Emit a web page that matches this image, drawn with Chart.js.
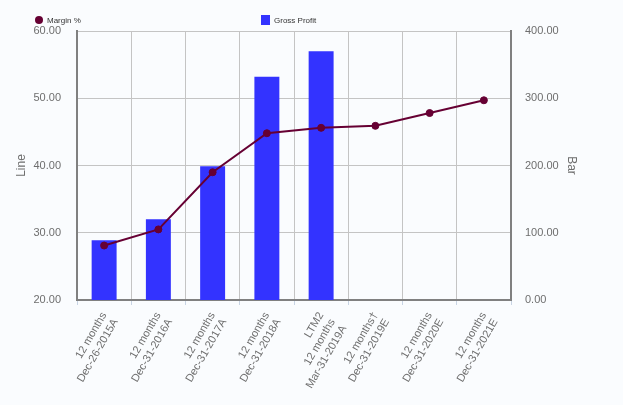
<!DOCTYPE html>
<html>
<head>
<meta charset="utf-8">
<script src="https://cdn.jsdelivr.net/npm/chart.js@4"></script>
<style>
  body { margin: 0; background: #fafcfe; font-family: "Liberation Sans", Arial, sans-serif; }
  #wrap { position: relative; width: 623px; height: 405px; }
  .lg { position: absolute; font-size: 8px; color: #333; line-height: 10px; white-space: nowrap; }
  .dot { display: inline-block; width: 8px; height: 8px; border-radius: 50%; background: #660033; vertical-align: -1px; margin-right: 4px; }
  .sq { display: inline-block; width: 9px; height: 10px; background: #3333ff; vertical-align: -2px; margin-right: 4px; }
</style>
</head>
<body>
<div id="wrap">
  <canvas id="myChart"></canvas>
  <div class="lg" id="lgLine" style="left:35px; top:16px;"><span class="dot"></span><span id="lgLineText"></span></div>
  <div class="lg" id="lgBar" style="left:261px; top:15px;"><span class="sq"></span><span id="lgBarText"></span></div>
</div>
<script>
var categories = [
  ['12 months', 'Dec-26-2015A'],
  ['12 months', 'Dec-31-2016A'],
  ['12 months', 'Dec-31-2017A'],
  ['12 months', 'Dec-31-2018A'],
  ['LTM2', '12 months', 'Mar-31-2019A'],
  ['12 months\u2020', 'Dec-31-2019E'],
  ['12 months', 'Dec-31-2020E'],
  ['12 months', 'Dec-31-2021E']
];
var grossProfit = [89, 120, 199, 332, 370, null, null, null];
var marginPct = [28.1, 30.5, 39.0, 44.8, 45.6, 45.9, 47.8, 49.7];
var lineTicks = [20, 30, 40, 50, 60];
var barTicks = [0, 100, 200, 300, 400];

document.getElementById('lgLineText').textContent = 'Margin %';
document.getElementById('lgBarText').textContent = 'Gross Profit';

var tickFont = { family: '"Liberation Sans", Arial, sans-serif', size: 11 };
var ctx = document.getElementById('myChart');
var myChart = new Chart(ctx, {
  type: 'bar',
  data: {
    labels: categories,
    datasets: [{
      type: 'line',
      label: 'Margin %',
      data: marginPct,
      yAxisID: 'y',
      borderColor: '#660033',
      backgroundColor: '#660033',
      borderWidth: 2,
      pointRadius: 3.5,
      pointBorderWidth: 1,
      tension: 0,
      order: 0
    }, {
      type: 'bar',
      label: 'Gross Profit',
      data: grossProfit,
      yAxisID: 'y1',
      backgroundColor: '#3333ff',
      categoryPercentage: 1,
      barPercentage: 0.46,
      order: 1
    }]
  },
  options: {
    responsive: true,
    maintainAspectRatio: false,
    animation: false,
    layout: { padding: { left: 10, right: 40, top: 31, bottom: 5 } },
    plugins: { legend: { display: false }, tooltip: { enabled: false } },
    scales: {
      x: {
        offset: true,
        grid: { color: '#c4c4c4', offset: true, drawTicks: true, tickLength: 5, tickColor: '#c8d4e4' },
        border: { color: '#808080', width: 2 },
        ticks: { font: tickFont, color: '#6e6e6e', minRotation: 60, maxRotation: 60, autoSkip: false, padding: 5 },
        afterFit: function(s) { s.height = 100; }
      },
      y: {
        position: 'left',
        min: lineTicks[0],
        max: lineTicks[lineTicks.length - 1],
        afterBuildTicks: function(s) { s.ticks = lineTicks.map(function(v) { return { value: v }; }); },
        grid: { color: '#c4c4c4', drawTicks: false },
        border: { color: '#808080', width: 2 },
        ticks: { font: tickFont, color: '#6e6e6e', padding: 16, callback: function(v) { return v.toFixed(2); } },
        title: { display: true, text: 'Line', color: '#6e6e6e', font: { family: '"Liberation Sans", Arial, sans-serif', size: 12 } },
        afterFit: function(s) { s.width = 67; }
      },
      y1: {
        position: 'right',
        min: barTicks[0],
        max: barTicks[barTicks.length - 1],
        afterBuildTicks: function(s) { s.ticks = barTicks.map(function(v) { return { value: v }; }); },
        grid: { display: false, drawTicks: false },
        border: { color: '#808080', width: 2 },
        ticks: { font: tickFont, color: '#6e6e6e', padding: 14, callback: function(v) { return v.toFixed(2); } },
        title: { display: true, text: 'Bar', color: '#6e6e6e', font: { family: '"Liberation Sans", Arial, sans-serif', size: 12 } },
        afterFit: function(s) { s.width = 72; }
      }
    }
  }
});
</script>
</body>
</html>
